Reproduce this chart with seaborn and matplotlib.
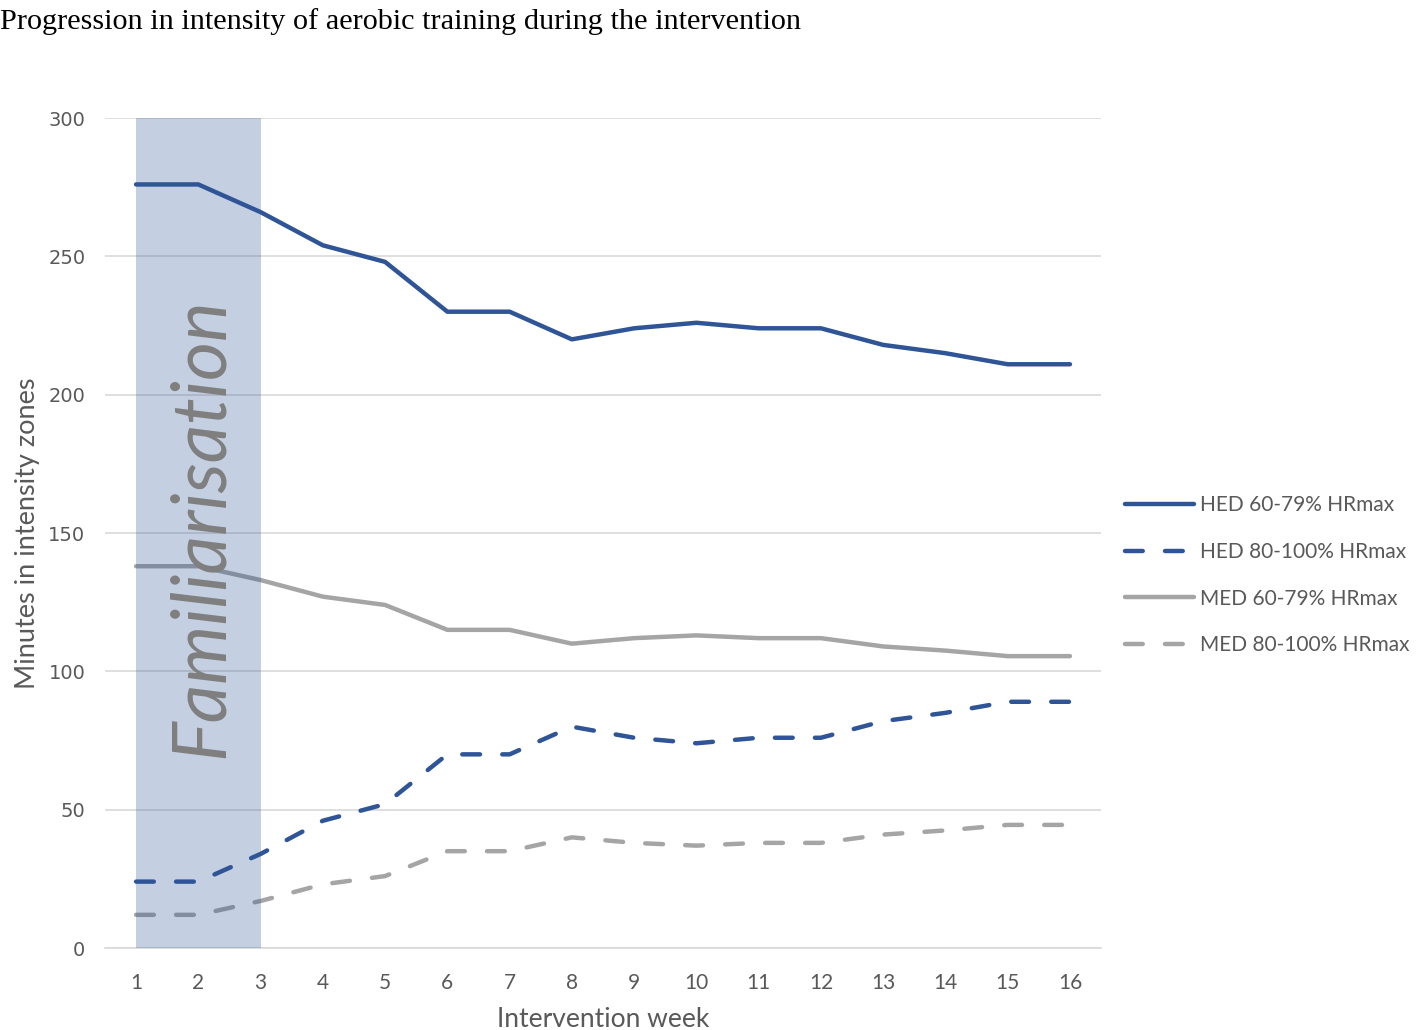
import matplotlib
matplotlib.use("Agg")
import matplotlib.pyplot as plt
import pandas as pd
import seaborn as sns

weeks = list(range(1, 17))
hed_60_79 = [276, 276, 266, 254, 248, 230, 230, 220, 224, 226, 224, 224, 218, 215, 211, 211]
hed_80_100 = [24, 24, 34, 46, 52, 70, 70, 80, 76, 74, 76, 76, 82, 85, 89, 89]
med_60_79 = [138, 138, 133, 127, 124, 115, 115, 110, 112, 113, 112, 112, 109, 107.5, 105.5, 105.5]
med_80_100 = [12, 12, 17, 23, 26, 35, 35, 40, 38, 37, 38, 38, 41, 42.5, 44.5, 44.5]
series_names = ["HED 60-79% HRmax", "HED 80-100% HRmax", "MED 60-79% HRmax", "MED 80-100% HRmax"]
familiarisation_weeks = (1, 3)

df = pd.concat([
    pd.DataFrame({"week": weeks, "minutes": vals, "series": name})
    for name, vals in zip(series_names, [hed_60_79, hed_80_100, med_60_79, med_80_100])
])

BLUE = "#2F5597"
GRAY = "#A5A5A5"
TXT = "#595959"
SANS = "Lato"
palette = dict(zip(series_names, [BLUE, BLUE, GRAY, GRAY]))
dashes = dict(zip(series_names, ["", (4, 5), "", (4, 5)]))

sns.set_style("white")
fig = plt.figure(figsize=(14.18, 10.3), dpi=100)
ax = fig.add_axes([0.074, 0.0796, 0.7025, 0.8058])

sns.lineplot(data=df, x="week", y="minutes", hue="series", style="series",
             palette=palette, dashes=dashes, linewidth=3.2, ax=ax, legend=True, zorder=2)
for ln in ax.lines:
    ln.set_dash_capstyle("round")
    ln.set_solid_capstyle("round")

# familiarisation band, drawn semi-transparent over the lines
ax.axvspan(*familiarisation_weeks, ymin=0, ymax=1, color=BLUE, alpha=0.28, lw=0, zorder=3)
ax.text(2.05, 152, "Familiarisation", rotation=90,
        ha="center", va="center", fontsize=54, style="italic", color="#7F7F7F",
        family=SANS, zorder=4)

ax.set_xlim(0.5, 16.5)
ax.set_ylim(0, 300)
ax.set_xticks(weeks)
ax.set_yticks(range(0, 301, 50))
ax.grid(axis="y", color="#D9D9D9", lw=1.2)
ax.set_axisbelow(True)
for s in ["top", "right", "left"]:
    ax.spines[s].set_visible(False)
ax.spines["bottom"].set_color("#D9D9D9")
ax.spines["bottom"].set_linewidth(1.2)
ax.tick_params(length=0)
ax.tick_params(axis="x", pad=18, labelsize=15, labelcolor=TXT)
ax.tick_params(axis="y", pad=14, labelsize=14, labelcolor=TXT)
for t in ax.get_xticklabels():
    t.set_family(SANS)

ax.set_xlabel("Intervention week", fontsize=19, color=TXT, family=SANS, labelpad=10)
ax.set_ylabel("Minutes in intensity zones", fontsize=19.5, color=TXT, family=SANS, labelpad=6)

handles, labels = ax.get_legend_handles_labels()
leg = ax.legend(handles, labels, loc="center left", bbox_to_anchor=(1.005, 0.449), frameon=False,
                handlelength=3.3, handletextpad=0.3, labelspacing=1.28,
                labelcolor=TXT, prop={"family": SANS, "size": 15})
for h in leg.get_lines():
    h.set_linewidth(3.2)
    h.set_dash_capstyle("round")
    h.set_solid_capstyle("round")

fig.text(0.0, 0.992, "Progression in intensity of aerobic training during the intervention",
         ha="left", va="top", fontsize=21.8, family="Liberation Serif", color="black")

fig.savefig("out.png", dpi=100)
